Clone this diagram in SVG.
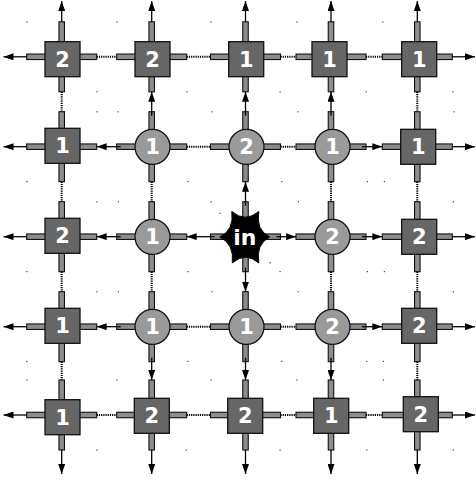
<svg xmlns="http://www.w3.org/2000/svg" width="476" height="481" viewBox="0 0 476 481">
<style>
.st{fill:#8c8c8c;stroke:#111;stroke-width:1.1}
.sq{fill:#666;stroke:#111;stroke-width:1.3}
.ci{fill:#9a9a9a;stroke:#111;stroke-width:1.3}
.lb{fill:#fff;font-family:"DejaVu Sans",sans-serif;font-weight:bold;font-size:21px;text-anchor:middle}
.in{fill:#000;stroke:#000;stroke-width:1}
.dt{stroke:#000;stroke-width:2;stroke-dasharray:1.2 1;fill:none}
.ar{stroke:#000;stroke-width:1.3;fill:none;marker-end:url(#ah)}
.sp{fill:#444}
</style>
<defs>
<marker id="ah" viewBox="0 0 10 7" refX="10" refY="3.5" markerWidth="10" markerHeight="7" markerUnits="userSpaceOnUse" orient="auto"><path d="M0,0L10,3.5L0,7z" fill="#000"/></marker>
<g id="hs"><rect class="st" x="-35" y="-2.75" width="70" height="5.5"/><rect class="st" x="-2.75" y="-35" width="5.5" height="70"/></g>
</defs>
<rect width="476" height="481" fill="#fff"/>
<g id="specks">
<rect class="sp" x="26.5" y="21.5" width="1.2" height="1.2"/><rect class="sp" x="116.5" y="21.5" width="1.2" height="1.2"/><rect class="sp" x="210.5" y="21.5" width="1.2" height="1.2"/><rect class="sp" x="296.2" y="21.5" width="1.2" height="1.2"/><rect class="sp" x="382.2" y="21.5" width="1.2" height="1.2"/>
<rect class="sp" x="96.5" y="91.2" width="1.2" height="1.2"/><rect class="sp" x="186.2" y="91.2" width="1.2" height="1.2"/><rect class="sp" x="279.5" y="91.2" width="1.2" height="1.2"/><rect class="sp" x="365.5" y="91.2" width="1.2" height="1.2"/><rect class="sp" x="452.2" y="91.2" width="1.2" height="1.2"/>
<rect class="sp" x="96.5" y="111.2" width="1.2" height="1.2"/><rect class="sp" x="117.5" y="111.2" width="1.2" height="1.2"/><rect class="sp" x="211.2" y="111.2" width="1.2" height="1.2"/><rect class="sp" x="297.2" y="111.2" width="1.2" height="1.2"/><rect class="sp" x="453.5" y="111.2" width="1.2" height="1.2"/>
<rect class="sp" x="26.2" y="181" width="1.2" height="1.2"/><rect class="sp" x="187.5" y="181" width="1.2" height="1.2"/><rect class="sp" x="281.2" y="181" width="1.2" height="1.2"/><rect class="sp" x="366.8" y="181" width="1.2" height="1.2"/><rect class="sp" x="383.8" y="181" width="1.2" height="1.2"/>
<rect class="sp" x="96.2" y="201.2" width="1.2" height="1.2"/><rect class="sp" x="117.8" y="201.2" width="1.2" height="1.2"/><rect class="sp" x="210.5" y="201.2" width="1.2" height="1.2"/><rect class="sp" x="297.8" y="201.2" width="1.2" height="1.2"/><rect class="sp" x="452.8" y="201.2" width="1.2" height="1.2"/>
<rect class="sp" x="219.5" y="212.8" width="1.2" height="1.2"/><rect class="sp" x="269.5" y="262.2" width="1.2" height="1.2"/>
<rect class="sp" x="26.2" y="271" width="1.2" height="1.2"/><rect class="sp" x="187.5" y="271" width="1.2" height="1.2"/><rect class="sp" x="279.5" y="271" width="1.2" height="1.2"/><rect class="sp" x="366.8" y="271" width="1.2" height="1.2"/><rect class="sp" x="383.8" y="271" width="1.2" height="1.2"/>
<rect class="sp" x="96.2" y="291.2" width="1.2" height="1.2"/><rect class="sp" x="117.8" y="291.2" width="1.2" height="1.2"/><rect class="sp" x="211.5" y="291.2" width="1.2" height="1.2"/><rect class="sp" x="297.5" y="291.2" width="1.2" height="1.2"/><rect class="sp" x="452.8" y="291.2" width="1.2" height="1.2"/>
<rect class="sp" x="26.2" y="360.8" width="1.2" height="1.2"/><rect class="sp" x="187.2" y="360.8" width="1.2" height="1.2"/><rect class="sp" x="281.2" y="360.8" width="1.2" height="1.2"/><rect class="sp" x="366.2" y="360.8" width="1.2" height="1.2"/><rect class="sp" x="382.8" y="360.8" width="1.2" height="1.2"/>
<rect class="sp" x="26.2" y="379.5" width="1.2" height="1.2"/><rect class="sp" x="116.2" y="379.5" width="1.2" height="1.2"/><rect class="sp" x="210.5" y="379.5" width="1.2" height="1.2"/><rect class="sp" x="296.2" y="379.5" width="1.2" height="1.2"/><rect class="sp" x="382.8" y="379.5" width="1.2" height="1.2"/>
<rect class="sp" x="96.2" y="449.5" width="1.2" height="1.2"/><rect class="sp" x="185.5" y="449.5" width="1.2" height="1.2"/><rect class="sp" x="279.5" y="449.5" width="1.2" height="1.2"/><rect class="sp" x="366.2" y="449.5" width="1.2" height="1.2"/><rect class="sp" x="452.8" y="449.5" width="1.2" height="1.2"/>
</g>
<g id="n00"><use href="#hs" x="61.7" y="56.8"/><rect class="sq" x="45" y="41.7" width="35" height="35"/><text class="lb" x="62.5" y="66.8">2</text></g>
<g id="n01"><use href="#hs" x="151.7" y="56.8"/><rect class="sq" x="135" y="41.7" width="35" height="35"/><text class="lb" x="152.5" y="66.8">2</text></g>
<g id="n02"><use href="#hs" x="245.5" y="56.8"/><rect class="sq" x="228.7" y="41.7" width="35" height="35"/><text class="lb" x="246.2" y="66.8">1</text></g>
<g id="n03"><use href="#hs" x="331" y="56.8"/><rect class="sq" x="312" y="41.7" width="35" height="35"/><text class="lb" x="329.5" y="66.8">1</text></g>
<g id="n04"><use href="#hs" x="417.3" y="56.8"/><rect class="sq" x="401.7" y="41.7" width="35" height="35"/><text class="lb" x="419.2" y="66.8">1</text></g>
<g id="n10"><use href="#hs" x="61.7" y="146.7"/><rect class="sq" x="45" y="128.3" width="35" height="35"/><text class="lb" x="62.5" y="153.4">1</text></g>
<g id="n11"><use href="#hs" x="151.7" y="146.7"/><circle class="ci" cx="152.5" cy="146.8" r="17.5"/><text class="lb" x="152.5" y="154.4">1</text></g>
<g id="n12"><use href="#hs" x="245.5" y="146.7"/><circle class="ci" cx="246.5" cy="146.8" r="17.5"/><text class="lb" x="246.5" y="154.4">2</text></g>
<g id="n13"><use href="#hs" x="331" y="146.7"/><circle class="ci" cx="332.5" cy="146.8" r="17.5"/><text class="lb" x="332.5" y="154.4">1</text></g>
<g id="n14"><use href="#hs" x="417.3" y="146.7"/><rect class="sq" x="400.7" y="129.3" width="35" height="35"/><text class="lb" x="418.2" y="154.4">1</text></g>
<g id="n20"><use href="#hs" x="61.7" y="236.7"/><rect class="sq" x="45" y="218.3" width="35" height="35"/><text class="lb" x="62.5" y="243.4">2</text></g>
<g id="n21"><use href="#hs" x="151.7" y="236.7"/><circle class="ci" cx="152.5" cy="236.8" r="17.5"/><text class="lb" x="152.5" y="244.4">1</text></g>
<g id="nin"><use href="#hs" x="245.5" y="236.7"/><path class="in" d="M219.8,237 Q234.35,230 231.8,211.5 Q245.1,223 258.8,211.5 Q255.5,230 269.8,237 Q255.5,244.15 258.8,263 Q245.5,251.3 232.3,263 Q234.5,244.15 219.8,237 Z"/><text class="lb" x="244.8" y="244.8" style="font-size:22px">in</text></g>
<g id="n23"><use href="#hs" x="331" y="236.7"/><circle class="ci" cx="332.5" cy="236.8" r="17.5"/><text class="lb" x="332.5" y="244.4">2</text></g>
<g id="n24"><use href="#hs" x="417.3" y="236.7"/><rect class="sq" x="401.7" y="219.3" width="35" height="35"/><text class="lb" x="419.2" y="244.4">2</text></g>
<g id="n30"><use href="#hs" x="61.7" y="326.7"/><rect class="sq" x="45" y="308.3" width="35" height="35"/><text class="lb" x="62.5" y="333.4">1</text></g>
<g id="n31"><use href="#hs" x="151.7" y="326.7"/><circle class="ci" cx="152.5" cy="326.8" r="17.5"/><text class="lb" x="152.5" y="334.4">1</text></g>
<g id="n32"><use href="#hs" x="245.5" y="326.7"/><circle class="ci" cx="246.5" cy="326.8" r="17.5"/><text class="lb" x="246.5" y="334.4">1</text></g>
<g id="n33"><use href="#hs" x="331" y="326.7"/><circle class="ci" cx="332.5" cy="326.8" r="17.5"/><text class="lb" x="332.5" y="334.4">2</text></g>
<g id="n34"><use href="#hs" x="417.3" y="326.7"/><rect class="sq" x="401.7" y="308.3" width="35" height="35"/><text class="lb" x="419.2" y="333.4">2</text></g>
<g id="n40"><use href="#hs" x="61.7" y="415"/><rect class="sq" x="45" y="399.7" width="35" height="35"/><text class="lb" x="62.5" y="424.8">1</text></g>
<g id="n41"><use href="#hs" x="151.7" y="415"/><rect class="sq" x="134.3" y="398.3" width="35" height="35"/><text class="lb" x="151.8" y="423.4">2</text></g>
<g id="n42"><use href="#hs" x="245.5" y="415"/><rect class="sq" x="227.7" y="398.3" width="35" height="35"/><text class="lb" x="245.2" y="423.4">2</text></g>
<g id="n43"><use href="#hs" x="331" y="415"/><rect class="sq" x="313.7" y="398.3" width="35" height="35"/><text class="lb" x="331.2" y="423.4">1</text></g>
<g id="n44"><use href="#hs" x="417.3" y="415"/><rect class="sq" x="403.3" y="396.7" width="35" height="35"/><text class="lb" x="420.8" y="421.8">2</text></g>
<g id="connectors">
<path class="dt" d="M96.7,56.8H116.7M186.7,56.8H210.5M280.5,56.8H296M366,56.8H382.3M96.7,415H116.7M186.7,415H210.5M280.5,415H296M366,415H382.3M186.7,146.7H210.5M280.5,146.7H296M186.7,326.7H210.5M280.5,326.7H296"/>
<path class="dt" d="M61.7,91.8V111.7M417.3,91.8V111.7M61.7,181.7V201.7M151.7,181.7V201.7M331,181.7V201.7M417.3,181.7V201.7M61.7,271.7V291.7M151.7,271.7V291.7M331,271.7V291.7M417.3,271.7V291.7M61.7,361.7V380M417.3,361.7V380"/>
<line class="ar" x1="151.7" y1="115.7" x2="151.7" y2="91.8"/>
<line class="ar" x1="245.5" y1="115.7" x2="245.5" y2="91.8"/>
<line class="ar" x1="331" y1="115.7" x2="331" y2="91.8"/>
<line class="ar" x1="245.5" y1="205.7" x2="245.5" y2="181.7"/>
<line class="ar" x1="245.5" y1="267.7" x2="245.5" y2="291.7"/>
<line class="ar" x1="151.7" y1="357.7" x2="151.7" y2="380"/>
<line class="ar" x1="245.5" y1="357.7" x2="245.5" y2="380"/>
<line class="ar" x1="331" y1="357.7" x2="331" y2="380"/>
<line class="ar" x1="120.7" y1="146.7" x2="96.7" y2="146.7"/>
<line class="ar" x1="362" y1="146.7" x2="382.3" y2="146.7"/>
<line class="ar" x1="120.7" y1="236.7" x2="96.7" y2="236.7"/>
<line class="ar" x1="214.5" y1="236.7" x2="186.7" y2="236.7"/>
<line class="ar" x1="276.5" y1="236.7" x2="296" y2="236.7"/>
<line class="ar" x1="362" y1="236.7" x2="382.3" y2="236.7"/>
<line class="ar" x1="120.7" y1="326.7" x2="96.7" y2="326.7"/>
<line class="ar" x1="362" y1="326.7" x2="382.3" y2="326.7"/>
<line class="ar" x1="61.7" y1="21.8" x2="61.7" y2="1"/>
<line class="ar" x1="151.7" y1="21.8" x2="151.7" y2="1"/>
<line class="ar" x1="245.5" y1="21.8" x2="245.5" y2="1"/>
<line class="ar" x1="331" y1="21.8" x2="331" y2="1"/>
<line class="ar" x1="417.3" y1="21.8" x2="417.3" y2="1"/>
<line class="ar" x1="61.7" y1="450" x2="61.7" y2="474"/>
<line class="ar" x1="151.7" y1="450" x2="151.7" y2="474"/>
<line class="ar" x1="245.5" y1="450" x2="245.5" y2="474"/>
<line class="ar" x1="331" y1="450" x2="331" y2="474"/>
<line class="ar" x1="417.3" y1="450" x2="417.3" y2="474"/>
<line class="ar" x1="26.7" y1="56.8" x2="3.5" y2="56.8"/>
<line class="ar" x1="26.7" y1="146.7" x2="3.5" y2="146.7"/>
<line class="ar" x1="26.7" y1="236.7" x2="3.5" y2="236.7"/>
<line class="ar" x1="26.7" y1="326.7" x2="3.5" y2="326.7"/>
<line class="ar" x1="26.7" y1="415" x2="3.5" y2="415"/>
<line class="ar" x1="452.3" y1="56.8" x2="475" y2="56.8"/>
<line class="ar" x1="452.3" y1="146.7" x2="475" y2="146.7"/>
<line class="ar" x1="452.3" y1="236.7" x2="475" y2="236.7"/>
<line class="ar" x1="452.3" y1="326.7" x2="475" y2="326.7"/>
<line class="ar" x1="452.3" y1="415" x2="475" y2="415"/>
</g>
</svg>
